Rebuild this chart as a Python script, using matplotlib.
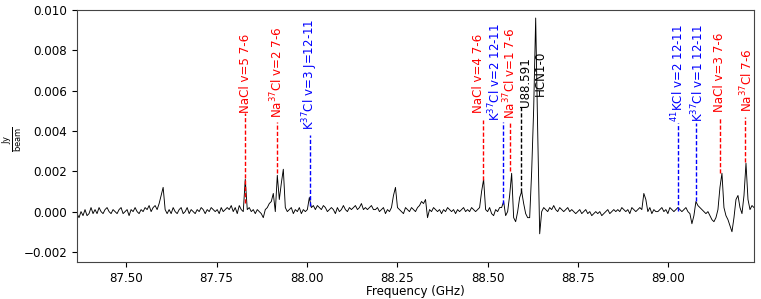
import numpy as np
import matplotlib
matplotlib.use("Agg")
import matplotlib.pyplot as plt

# spectrum: start frequency (GHz), channel width (GHz), flux in 1e-4 Jy/beam
freq_start = 87.364
chan_width = 0.00554
flux_e4 = [
    -1, -3, 0, -2, 1, -2, -1, 2, -1, 1,
    -1, 2, 0, -1, 1, 2, 0, -1, 1, 0,
    -1, 1, 2, -1, 0, 1, -2, 1, 0, 2,
    0, -1, 1, 0, 2, 1, 3, 0, 2, 3,
    1, 4, 8, 12, 1, -1, 1, -1, 2, 0,
    -1, 1, 2, -1, 0, 2, -1, 1, 0, -1,
    1, 0, 2, 1, -1, 1, 0, 2, 1, 0,
    1, -1, 2, 0, 1, 2, 1, 3, 0, 2,
    -1, 3, 1, 0, 16, 1, 2, 0, 1, -1,
    1, 0, -1, -3, 1, 2, 4, 5, 9, 0,
    18, 6, 14, 21, 2, 0, 1, 2, -1, 1,
    0, 2, -1, 1, 0, 1, 7, 2, 3, 1,
    3, 2, 1, 3, 2, 0, 1, 2, 1, -1,
    2, 0, 1, 3, 1, 0, 2, 1, 2, 3,
    1, 2, 4, 1, 2, 1, 2, 3, 1, 1,
    2, 0, 1, 2, -1, 1, 0, 2, 8, 12,
    2, 1, 0, -1, 2, 1, 0, 2, 1, 0,
    2, 3, 5, 4, 6, -3, 1, 0, 2, 1,
    0, 1, -1, 1, 0, 2, 1, 0, 1, -1,
    1, 0, 1, 2, 0, 1, 0, 2, 1, 0,
    1, 2, 10, 16, 1, 0, 2, -1, -2, 1,
    0, 2, 2, 5, -2, 0, 8, 19, -3, -5,
    0, 7, 10, 4, -1, -3, -3, 20, 51, 96,
    40, -11, 0, 2, 1, 0, 2, 1, 3, 1,
    0, 2, 1, 0, 1, 2, 0, 1, 0, -1,
    0, 1, -1, 0, 1, -1, 0, -2, -1, 0,
    -1, 0, -2, -1, 0, 1, -1, 0, 1, 0,
    1, 0, 2, 1, 0, 1, -1, 2, 1, 0,
    1, 2, 1, 9, 6, 0, 2, -1, 1, 0,
    0, 1, 2, 0, 1, -1, 2, 1, 0, 1,
    2, 1, 0, 1, 2, 0, -1, -6, -2, 5,
    3, 2, 1, 0, -1, 0, -2, -4, -5, -3,
    1, 12, 19, 2, -2, -4, -7, -10, -3, 6,
    8, 2, -1, 8, 24, 6, 1, 3, 2,
]

# line identifications
line_names = [
    "NaCl v=5 7-6", "Na$^{37}$Cl v=2 7-6", "K$^{37}$Cl v=3 J=12-11",
    "NaCl v=4 7-6", "K$^{37}$Cl v=2 12-11", "Na$^{37}$Cl v=1 7-6",
    "U88.591", "HCN1-0", "$^{41}$KCl v=2 12-11", "K$^{37}$Cl v=1 12-11",
    "NaCl v=3 7-6", "Na$^{37}$Cl 7-6",
]
line_freqs = [87.829, 87.918, 88.009, 88.486, 88.541, 88.563,
              88.591, 88.6318, 89.026, 89.076, 89.142, 89.212]
label_x = [87.829, 87.918, 88.009, 88.4748, 88.519, 88.563,
           88.6036, 88.6452, 89.026, 89.0815, 89.142, 89.2158]
label_y = [0.0049, 0.00465, 0.00405, 0.0049, 0.0045, 0.0046,
           0.0052, 0.00575, 0.00445, 0.00445, 0.00495, 0.00495]
dash_top = [0.0049, 0.00445, 0.0038, 0.00455, 0.00445, 0.0044,
            0.0052, np.nan, 0.0044, 0.0044, 0.0047, 0.0047]
dash_bottom = [0.00045, 0.0019, 0.0003, 0.00155, 0.0004, 0.002,
               0.00095, np.nan, 0.00005, 0.00055, 0.0019, 0.00245]
line_colors = ["red", "red", "blue", "red", "blue", "red",
               "black", "black", "blue", "blue", "red", "red"]

flux = np.array(flux_e4) * 1e-4
freq = freq_start + chan_width * np.arange(len(flux))

fig = plt.figure(figsize=(7.61, 2.99), dpi=100)
ax = fig.add_axes([0.1012, 0.1237, 0.8896, 0.843])
ax.plot(freq, flux, color="black", lw=0.65)

for name, f, lx, ly, top, bot, c in zip(line_names, line_freqs, label_x, label_y,
                                         dash_top, dash_bottom, line_colors):
    if not np.isnan(top):
        ax.plot([f, f], [bot, top], color=c, linestyle="--", lw=1.0,
                dashes=(3, 1.5))
    ax.text(lx, ly, name, rotation=90, ha="center", va="bottom",
            color=c, fontsize=8.6)

ax.set_xlim(freq[0], freq[-1])
ax.set_ylim(-0.0025, 0.0100)
ax.set_xticks([87.50, 87.75, 88.00, 88.25, 88.50, 88.75, 89.00])
ax.set_yticks([-0.002, 0.000, 0.002, 0.004, 0.006, 0.008, 0.010])
ax.tick_params(labelsize=8.6)
ax.set_xlabel("Frequency (GHz)", fontsize=8.6, labelpad=0.5)
fig.text(0.017, 0.535, r"$\frac{\mathrm{Jy}}{\mathrm{beam}}$", fontsize=8.6,
         rotation=90, ha="center", va="center")
for s in ax.spines.values():
    s.set_color("#444444")

fig.savefig("out.png", dpi=100)
